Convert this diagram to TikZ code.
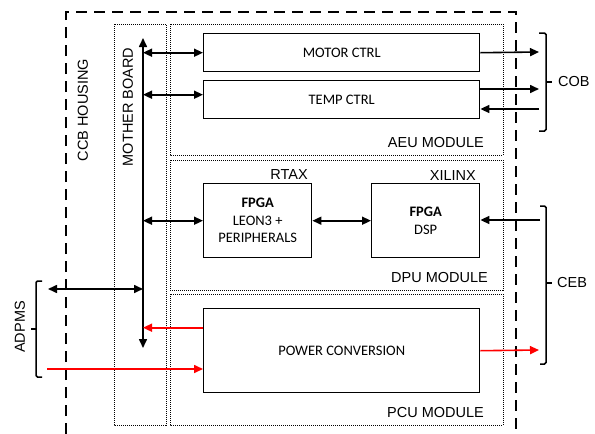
\documentclass[tikz,border=0pt]{standalone}
\usepackage{fontspec}
\setmainfont{Liberation Sans}
\newfontfamily\calfont{Carlito}
\usetikzlibrary{arrows.meta}
\begin{document}
\begin{tikzpicture}[x=1pt,y=-1pt,
  every node/.style={font=\fontsize{14}{17}\selectfont},
  blk/.style={draw, line width=1.4pt, anchor=north west, inner sep=0pt, align=center, font=\calfont\fontsize{14.5}{17.5}\selectfont},
  dotbox/.style={draw, line width=1pt, dash pattern=on 1pt off 1pt},
  lbl/.style={inner sep=0pt, font=\fontsize{14.5}{17}\selectfont},
  tipa/.style={-{Triangle[length=9pt,width=8pt]}},
  dbl/.style={{Triangle[length=9pt,width=8pt]}-{Triangle[length=9pt,width=8pt]}},
  conn/.style={line width=1.6pt},
  redc/.style={line width=1.6pt, draw=red, -{Triangle[length=9pt,width=8pt]}, color=red},
  brace/.style={line width=1.5pt, rounded corners=1.5pt}
]
\useasboundingbox (0,0) rectangle (595,434);

% outer housing (dashed, open at bottom)
\draw[line width=1.8pt, dash pattern=on 11pt off 7pt] (66,434) -- (66,12) -- (516,12) -- (516,434);

% dotted frames
\draw[dotbox] (114,24) rectangle (166,425);
\draw[dotbox] (170,24) rectangle (503,155);
\draw[dotbox] (170,160) rectangle (503,290);
\draw[dotbox] (170,294) rectangle (503,425);

% blocks
\node[blk, minimum width=276pt, minimum height=38pt] (motor) at (203,33) {MOTOR CTRL};
\node[blk, minimum width=276pt, minimum height=38pt] (temp) at (203,80) {TEMP CTRL};
\node[blk, minimum width=108pt, minimum height=74pt] (leon) at (203,183) {\textbf{FPGA}\\LEON3 +\\PERIPHERALS};
\node[blk, minimum width=108pt, minimum height=74pt] (xil) at (371,183) {\textbf{FPGA}\\DSP};
\node[blk, minimum width=276pt, minimum height=84pt] (pow) at (203,308) {POWER CONVERSION};

% labels
\node[lbl, rotate=90] (ccb) at (83,110) {CCB HOUSING};
\node[lbl, rotate=90] (mb) at (128,107) {MOTHER BOARD};
\node[lbl, anchor=east] (aeu) at (484,143) {AEU MODULE};
\node[lbl, anchor=east] (dpu) at (488,278) {DPU MODULE};
\node[lbl, anchor=east] (pcu) at (484,413) {PCU MODULE};
\node[lbl, anchor=east] (rtax) at (308,175) {RTAX};
\node[lbl, anchor=east] (xlx) at (476,176) {XILINX};
\node[lbl, anchor=west] (cob) at (558,82) {COB};
\node[lbl, anchor=west] (ceb) at (557,283) {CEB};
\node[lbl, rotate=90] (adpms) at (20,327) {ADPMS};

% bus
\coordinate (bustop) at (143,38);
\coordinate (busbot) at (143,348);
\draw[conn, dbl] (busbot) -- (bustop);

% left connections
\draw[conn, dbl] (motor.west -| bustop) -- (motor.west);
\draw[conn, dbl] ([yshift=5pt]temp.west -| bustop) -- ([yshift=5pt]temp.west);
\draw[conn, dbl] (leon.west -| bustop) -- (leon.west);
\draw[conn, dbl] (leon.east) -- (xil.west);
\coordinate (adA) at (48,289);
\draw[conn, dbl] (adA) -- (adA -| bustop);
\draw[redc] ([yshift=23pt]pow.west) -- ([yshift=23pt]pow.west -| bustop);
\coordinate (adB) at (47,369);
\draw[redc] (adB) -- (adB -| pow.west);

% right connections
\coordinate (cobA) at (539,52);
\coordinate (cobB) at (539,89);
\coordinate (cobC) at (539,109);
\coordinate (cebA) at (540,220);
\coordinate (cebB) at (539,350);
\draw[conn, tipa] (motor.east) -- (cobA);
\draw[conn, tipa] (cobB -| temp.east) -- (cobB);
\draw[conn, tipa] (cobC) -- (cobC -| temp.east);
\draw[conn, tipa] (cebA) -- (cebA -| xil.east);
\draw[redc] (pow.east) -- (cebB);

% braces
\draw[brace] (539,33) -- (546,33) -- (546,131) -- (539,131);
\draw[line width=1.5pt] (546,82) -- (552,82);
\draw[brace] (540,206) -- (546,206) -- (546,364) -- (540,364);
\draw[line width=1.5pt] (546,283) -- (552,283);
\draw[brace] (42,281) -- (36,281) -- (36,377) -- (42,377);
\draw[line width=1.5pt] (36,329) -- (31,329);
\end{tikzpicture}
\end{document}
